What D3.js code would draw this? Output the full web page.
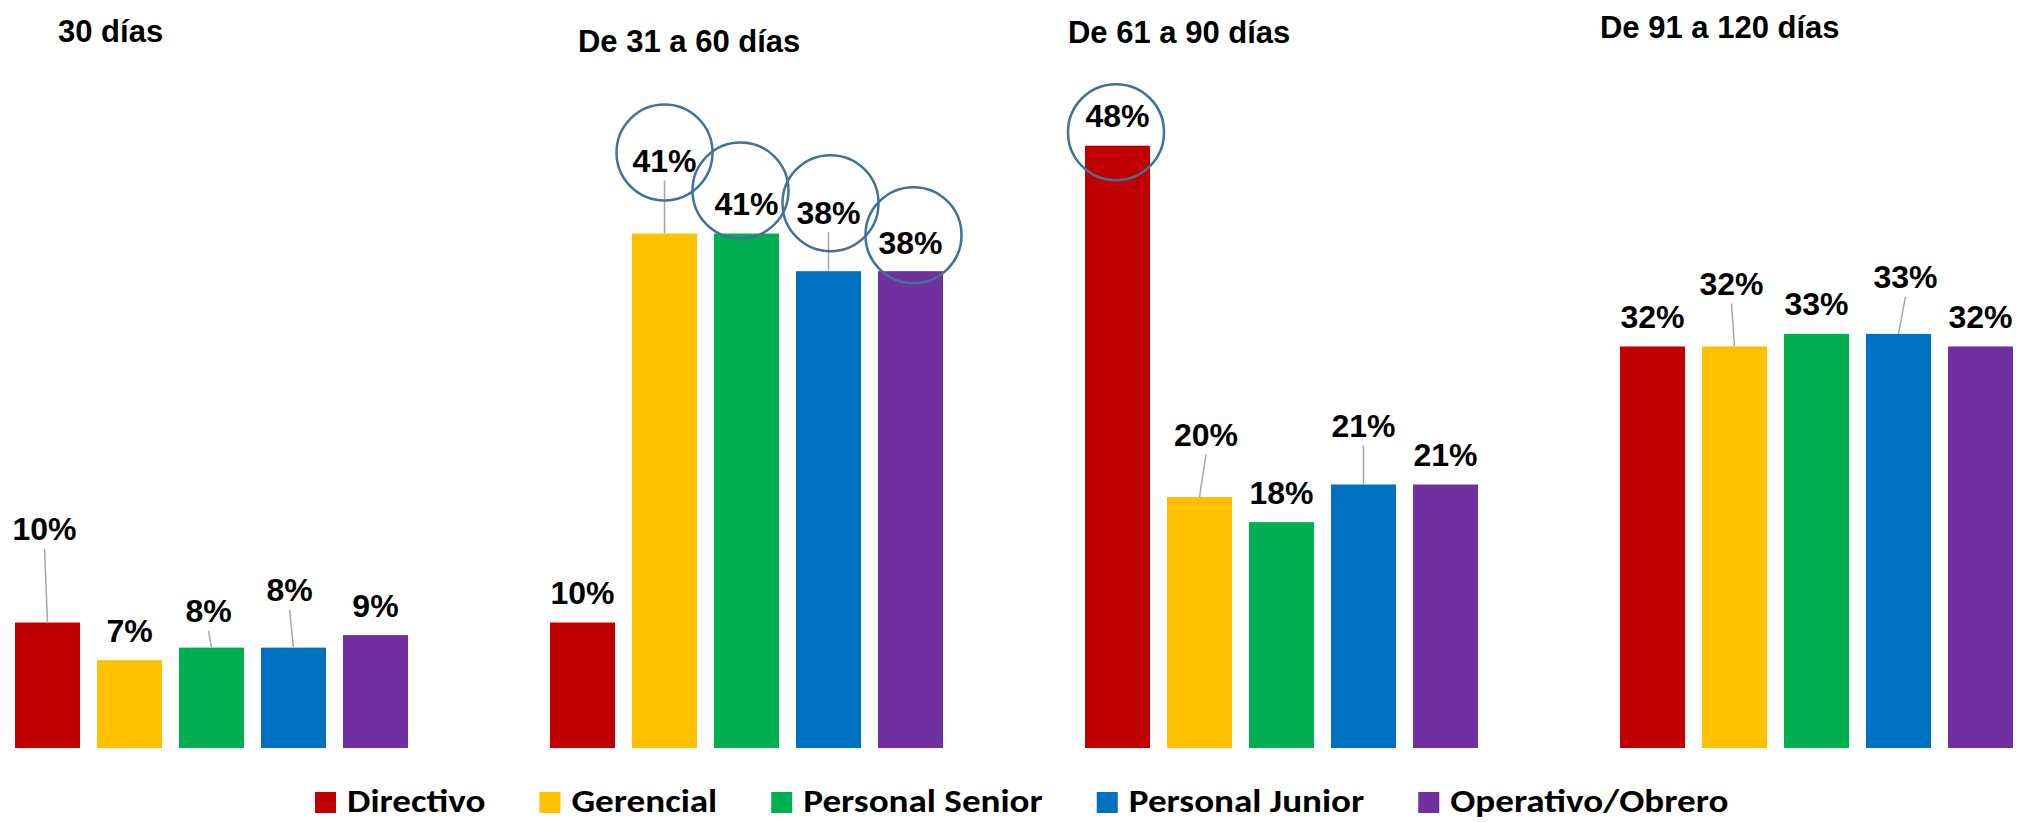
<!DOCTYPE html>
<html>
<head>
<meta charset="utf-8">
<script src="https://cdn.jsdelivr.net/npm/d3@7"></script>
<style>
  body { margin: 0; background: #fff; }
  text { font-family: "Liberation Sans", Arial, sans-serif; font-weight: bold; fill: #000; }
  .legend text { font-family: Carlito, Calibri, "Open Sans", sans-serif; }
</style>
</head>
<body>
<div id="chart"></div>
<script>
// periods (one panel each)
var categories = ["30 días", "De 31 a 60 días", "De 61 a 90 días", "De 91 a 120 días"];
var seriesNames = ["Directivo", "Gerencial", "Personal Senior", "Personal Junior", "Operativo/Obrero"];

// percentages per period
var directivo = [10, 10, 48, 32];
var gerencial = [7, 41, 20, 32];
var personalSenior = [8, 41, 18, 33];
var personalJunior = [8, 38, 21, 33];
var operativo = [9, 38, 21, 32];

var seriesValues = [directivo, gerencial, personalSenior, personalJunior, operativo];
var colors = ["#C00000", "#FFC000", "#00B050", "#0070C0", "#7030A0"];

// labels that were dragged away from the bar (dx, dy in px) -> get a leader line
var labelNudge = {
    "0-0": [-3, -64], "0-2": [-3, -7], "0-3": [-4, -28],
    "1-1": [0, -43], "1-3": [0, -29], "1-4": [0, 1],
    "2-1": [6.5, -33], "2-3": [0, -29],
    "3-1": [-3, -33], "3-3": [7, -27]
};
// highlighted labels (circle offset from label centre)
var circled = {
    "1-1": [0, -8], "1-2": [-6, -13], "1-3": [2, -9], "1-4": [3, -7], "2-0": [-1.5, 16.5]
};
// panel titles: offset from panel start and baseline
var titleDx = [43, 28, -17, -20];
var titleY = [42, 52, 43, 38];

var svgWidth = 2025;
var svgHeight = 822;

var svg = d3.select("#chart")
    .append("svg")
    .attr("width", svgWidth)
    .attr("height", svgHeight);

var x0 = d3.scaleBand()
    .domain(categories)
    .range([15, 2013])
    .paddingInner(0.2654)
    .paddingOuter(0);

var x1 = d3.scaleBand()
    .domain(seriesNames)
    .range([0, x0.bandwidth()])
    .paddingInner(0.207);

var y = d3.scaleLinear()
    .domain([0, 48])
    .range([748, 145.7]);

var data = [];
categories.forEach(function (c, i) {
    seriesNames.forEach(function (s, j) {
        data.push({ cat: c, ci: i, series: s, si: j, value: seriesValues[j][i] });
    });
});

// Bars
svg.append("g").selectAll("rect")
    .data(data)
    .enter()
    .append("rect")
    .attr("x", d => x0(d.cat) + x1(d.series))
    .attr("y", d => y(d.value))
    .attr("width", x1.bandwidth())
    .attr("height", d => y(0) - y(d.value))
    .attr("fill", d => colors[d.si]);

function labelPos(d) {
    var n = labelNudge[d.ci + "-" + d.si] || [0, 0];
    var cx = x0(d.cat) + x1(d.series) + x1.bandwidth() / 2;
    return { bx: cx, by: y(d.value), lx: cx + n[0], ly: y(d.value) - 30 + n[1] };
}

// Leader lines
svg.append("g").selectAll("line")
    .data(data.filter(d => labelNudge[d.ci + "-" + d.si] && labelNudge[d.ci + "-" + d.si][1] < -5))
    .enter()
    .append("line")
    .attr("x1", d => labelPos(d).lx)
    .attr("y1", d => labelPos(d).ly + 20)
    .attr("x2", d => labelPos(d).bx)
    .attr("y2", d => labelPos(d).by)
    .attr("stroke", "#A6A6A6")
    .attr("stroke-width", 1.5);

// Value labels
svg.append("g").selectAll("text")
    .data(data)
    .enter()
    .append("text")
    .attr("x", d => labelPos(d).lx)
    .attr("y", d => labelPos(d).ly)
    .attr("dy", "0.36em")
    .attr("text-anchor", "middle")
    .attr("font-size", "32px")
    .text(d => d.value + "%");

// Circles around highlighted labels
svg.append("g").selectAll("circle")
    .data(data.filter(d => circled[d.ci + "-" + d.si]))
    .enter()
    .append("circle")
    .attr("cx", d => labelPos(d).lx + circled[d.ci + "-" + d.si][0])
    .attr("cy", d => labelPos(d).ly + circled[d.ci + "-" + d.si][1])
    .attr("r", 48)
    .attr("fill", "none")
    .attr("stroke", "#41719C")
    .attr("stroke-width", 2.5);

// Panel titles
svg.append("g").selectAll("text")
    .data(categories)
    .enter()
    .append("text")
    .attr("x", (d, i) => x0(d) + titleDx[i])
    .attr("y", (d, i) => titleY[i])
    .attr("font-size", "31px")
    .text(d => d);

// Legend (text is a bit wider than the font, stretch it)
var legend = svg.append("g").attr("class", "legend");
var lx = 315;
seriesNames.forEach(function (s, j) {
    legend.append("rect")
        .attr("x", lx)
        .attr("y", 792)
        .attr("width", 21)
        .attr("height", 21)
        .attr("fill", colors[j]);
    var t = legend.append("text")
        .attr("x", lx + 32)
        .attr("y", 812)
        .attr("font-size", "32px")
        .text(s);
    var w = t.node().getComputedTextLength() * 1.16;
    t.attr("textLength", w).attr("lengthAdjust", "spacingAndGlyphs");
    lx = lx + 32 + w + 54;
});
</script>
</body>
</html>
